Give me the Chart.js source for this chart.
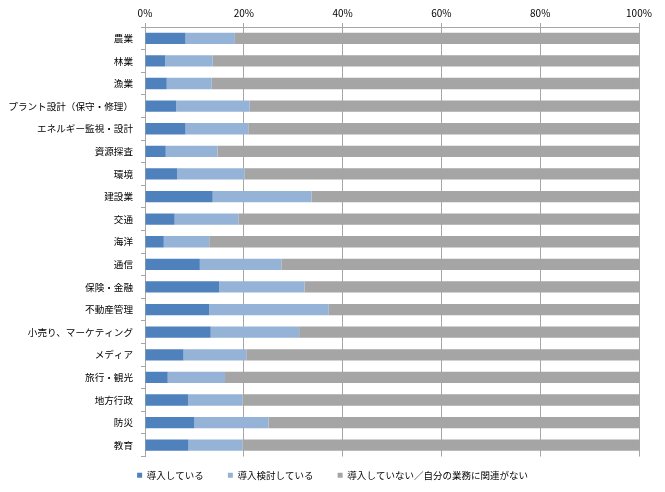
<!DOCTYPE html>
<html><head><meta charset="utf-8">
<script src="https://cdn.jsdelivr.net/npm/chart.js@4"></script>
<style>html,body{margin:0;padding:0;background:#fff}#w{width:665px;height:492px}</style>
</head><body><div id="w"><canvas id="c"></canvas></div>
<script>
const categories = ["農業","林業","漁業","プラント設計（保守・修理）","エネルギー監視・設計","資源探査","環境","建設業","交通","海洋","通信","保険・金融","不動産管理","小売り、マーケティング","メディア","旅行・観光","地方行政","防災","教育"];
const introduced = [8.2,4.1,4.4,6.3,8.2,4.2,6.5,13.7,6.0,3.8,11.1,15.0,13.0,13.3,7.8,4.6,8.7,10.0,8.8];
const considering = [10.0,9.6,9.1,14.9,12.7,10.5,13.6,20.0,12.9,9.2,16.5,17.3,24.2,17.9,12.7,11.6,11.0,15.0,10.9];
const notIntroduced = [81.8,86.3,86.5,78.8,79.1,85.3,79.9,66.3,81.1,87.0,72.4,67.7,62.8,68.8,79.5,83.8,80.3,75.0,80.3];
const seriesNames = ["導入している","導入検討している","導入していない／自分の業務に関連がない"];
const tickValues = [0,20,40,60,80,100];
const font = "'Noto Sans CJK JP','Noto Sans',sans-serif";
const shiftLegend = {
  id: 'shiftLegend',
  afterLayout(chart) {
    const l = chart.legend;
    l.left += 13; l.right += 13; l.top -= 10; l.bottom -= 10;
  }
};
new Chart(document.getElementById('c'), {
  type: 'bar',
  plugins: [shiftLegend],
  data: {
    labels: categories,
    datasets: [
      {label: seriesNames[0], data: introduced, backgroundColor: '#4f81bd'},
      {label: seriesNames[1], data: considering, backgroundColor: '#95b3d7'},
      {label: seriesNames[2], data: notIntroduced, backgroundColor: '#a5a5a5'}
    ]
  },
  options: {
    indexAxis: 'y',
    responsive: true,
    maintainAspectRatio: false,
    animation: false,
    datasets: {bar: {categoryPercentage: 1, barPercentage: 0.5, borderWidth: 0}},
    layout: {padding: {top: -2, left: 0, right: 26, bottom: -8}},
    plugins: {
      tooltip: {enabled: false},
      legend: {
        position: 'bottom',
        labels: {boxWidth: 5, boxHeight: 5, padding: 24, color: '#000', font: {family: font, size: 9.5}}
      }
    },
    scales: {
      x: {
        position: 'top', stacked: true, min: 0, max: 100,
        afterBuildTicks: s => { s.ticks = tickValues.map(v => ({value: v})); },
        afterFit: s => { s.height = 29; },
        ticks: {callback: v => v + '%', color: '#000', font: {family: font, size: 10}, padding: 4, maxRotation: 0},
        grid: {color: '#a6a6a6', tickLength: 4, lineWidth: 1},
        border: {color: '#a6a6a6'}
      },
      y: {
        stacked: true,
        afterFit: s => { s.width = 145; },
        ticks: {color: '#000', font: {family: font, size: 9.6}, padding: 8, autoSkip: false},
        grid: {drawOnChartArea: false, color: '#a6a6a6', tickLength: 4, offset: true},
        border: {color: '#a6a6a6'}
      }
    }
  }
});
</script></body></html>
